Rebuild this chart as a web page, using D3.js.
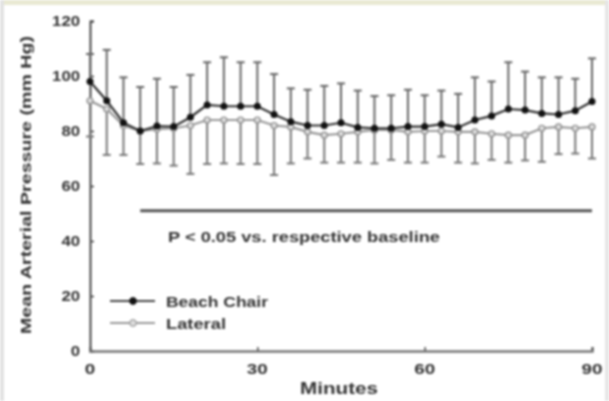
<!DOCTYPE html>
<html>
<head>
<meta charset="utf-8">
<script src="https://cdn.jsdelivr.net/npm/d3@7"></script>
<style>
  html, body { margin: 0; padding: 0; background: #fff; }
  svg { display: block; filter: blur(0.8px); }
  text { font-family: "Liberation Sans", Arial, sans-serif; fill: #333; font-weight: bold; }
</style>
</head>
<body>
<svg id="chart" width="609" height="401"></svg>
<script>
// time points (min)
const minutes = d3.range(0, 91, 3)

// Beach Chair: mean and upper error bar end
const beachMean = [98, 91, 83, 80, 81.8, 81.6, 85, 89.5, 89, 89, 89, 86, 83.4,
  82, 82, 83, 81.3, 81, 81, 81.6, 81.6, 82.5, 81.3, 84, 85.5, 88, 87.6, 86.4, 86, 87.4, 90.7]
const beachUpper = [108, 109.5, 99.5, 96, 99, 96, 100.4, 105, 106.8, 105, 105, 100.7, 95.5,
  95, 96.4, 97.3, 94.7, 92.7, 93, 95, 93, 94.7, 93.5, 99.5, 98, 105, 101.6, 99.5, 99.5, 99, 106.4]

// Lateral: mean and lower error bar end
const lateralMean = [91, 88, 82, 80, 80.7, 81, 82, 84, 84, 84, 84, 82, 81.5,
  79.7, 78.5, 79, 79.7, 80.4, 80.4, 79.7, 80, 80, 79.7, 79.7, 79, 78.5, 78.5, 81, 81.5, 81, 81.5]
const lateralLower = [78, 71.3, 71.3, 68, 68.2, 67.4, 64.4, 68, 68.2, 68, 68, 64, 68.2,
  70, 68.5, 68.5, 68.5, 68.2, 69.5, 68.5, 68.5, 70.7, 68.5, 68.2, 69.5, 68.5, 69.3, 68.8, 71.6, 71.8, 70]

const yTicks = [0, 20, 40, 60, 80, 100, 120]
const xTicks = [0, 30, 60, 90]
const sigLevel = 51
const sigFrom = 9

const svg = d3.select("#chart")

// frame bits of the scanned figure
svg.append("rect").attr("x", 0).attr("y", 0).attr("width", 609).attr("height", 5).attr("fill", "#e9e9d3")
svg.append("rect").attr("x", 0).attr("y", 0).attr("width", 4).attr("height", 401).attr("fill", "#e2e2e2")
svg.append("rect").attr("x", 605).attr("y", 0).attr("width", 4).attr("height", 401).attr("fill", "#e6e6e6")

const x = d3.scaleLinear().domain([0, 90]).range([90, 592])
const y = d3.scaleLinear().domain([0, 120]).range([351, 21])

// axes
const yAxis = svg.append("g")
  .attr("transform", `translate(${x(0)},0)`)
  .call(d3.axisRight(y).tickValues(yTicks).tickSize(4).tickFormat(""))
yAxis.select(".domain").attr("stroke", "#333").attr("stroke-width", 1.8)
yAxis.selectAll(".tick line").attr("stroke", "#444").attr("stroke-width", 1.6)

svg.append("g").selectAll("text")
  .data(yTicks)
  .join("text")
  .attr("x", 80)
  .attr("y", d => y(d) + 5)
  .attr("text-anchor", "end")
  .attr("font-size", 14)
  .attr("textLength", d => String(d).length * 9.3)
  .attr("lengthAdjust", "spacingAndGlyphs")
  .text(d => d)

const xAxis = svg.append("g")
  .attr("transform", `translate(0,${y(0)})`)
  .call(d3.axisTop(x).tickValues(xTicks).tickSize(4).tickFormat(""))
xAxis.select(".domain").attr("stroke", "#777").attr("stroke-width", 2.4)
xAxis.selectAll(".tick line").attr("stroke", "#555").attr("stroke-width", 1.6)

svg.append("g").selectAll("text")
  .data(xTicks)
  .join("text")
  .attr("x", d => x(d))
  .attr("y", 374)
  .attr("text-anchor", "middle")
  .attr("font-size", 14)
  .attr("textLength", d => String(d).length * 10.5)
  .attr("lengthAdjust", "spacingAndGlyphs")
  .text(d => d)

svg.append("text")
  .attr("x", 339)
  .attr("y", 394)
  .attr("text-anchor", "middle")
  .attr("font-size", 17)
  .attr("textLength", 78)
  .attr("lengthAdjust", "spacingAndGlyphs")
  .text("Minutes")

svg.append("text")
  .attr("transform", `translate(31,185) rotate(-90)`)
  .attr("text-anchor", "middle")
  .attr("font-size", 15)
  .attr("textLength", 298)
  .attr("lengthAdjust", "spacingAndGlyphs")
  .text("Mean Arterial Pressure (mm Hg)")

// significance bar
svg.append("line")
  .attr("x1", x(sigFrom)).attr("x2", x(90))
  .attr("y1", y(sigLevel)).attr("y2", y(sigLevel))
  .attr("stroke", "#555").attr("stroke-width", 3)
svg.append("text")
  .attr("x", 168)
  .attr("y", y(sigLevel) + 31)
  .attr("font-size", 14)
  .attr("textLength", 272)
  .attr("lengthAdjust", "spacingAndGlyphs")
  .text("P < 0.05 vs. respective baseline")

// error bars
function errorBars(means, ends, color) {
  const g = svg.append("g").attr("stroke", color).attr("stroke-width", 2)
  g.selectAll("line.stem")
    .data(minutes)
    .join("line")
    .attr("class", "stem")
    .attr("x1", d => x(d)).attr("x2", d => x(d))
    .attr("y1", (d, i) => y(means[i])).attr("y2", (d, i) => y(ends[i]))
  g.selectAll("line.cap")
    .data(minutes)
    .join("line")
    .attr("class", "cap")
    .attr("x1", d => x(d) - 4).attr("x2", d => x(d) + 4)
    .attr("y1", (d, i) => y(ends[i])).attr("y2", (d, i) => y(ends[i]))
}
errorBars(beachMean, beachUpper, "#666")
errorBars(lateralMean, lateralLower, "#777")

const line = d3.line().x((d, i) => x(minutes[i])).y(d => y(d))

// Lateral series
svg.append("path")
  .datum(lateralMean)
  .attr("fill", "none").attr("stroke", "#999").attr("stroke-width", 2.2)
  .attr("d", line)
svg.append("g").selectAll("circle")
  .data(lateralMean)
  .join("circle")
  .attr("cx", (d, i) => x(minutes[i]))
  .attr("cy", d => y(d))
  .attr("r", 3)
  .attr("fill", "#ddd").attr("stroke", "#888").attr("stroke-width", 1.2)

// Beach Chair series
svg.append("path")
  .datum(beachMean)
  .attr("fill", "none").attr("stroke", "#333").attr("stroke-width", 2.2)
  .attr("d", line)
svg.append("g").selectAll("circle")
  .data(beachMean)
  .join("circle")
  .attr("cx", (d, i) => x(minutes[i]))
  .attr("cy", d => y(d))
  .attr("r", 3.5)
  .attr("fill", "#111")

// legend
const legend = [
  {name: "Beach Chair", width: 102, line: "#444", fill: "#111", stroke: "#111"},
  {name: "Lateral", width: 60, line: "#999", fill: "#ddd", stroke: "#888"}
]
const lg = svg.append("g").selectAll("g")
  .data(legend)
  .join("g")
  .attr("transform", (d, i) => `translate(110,${301 + i * 22})`)
lg.append("line")
  .attr("x1", 0).attr("x2", 45)
  .attr("stroke", d => d.line).attr("stroke-width", 2.2)
lg.append("circle")
  .attr("cx", 23).attr("r", 3.4)
  .attr("fill", d => d.fill).attr("stroke", d => d.stroke)
lg.append("text")
  .attr("x", 56).attr("y", 6)
  .attr("font-size", 15)
  .attr("textLength", d => d.width)
  .attr("lengthAdjust", "spacingAndGlyphs")
  .text(d => d.name)
</script>
</body>
</html>
